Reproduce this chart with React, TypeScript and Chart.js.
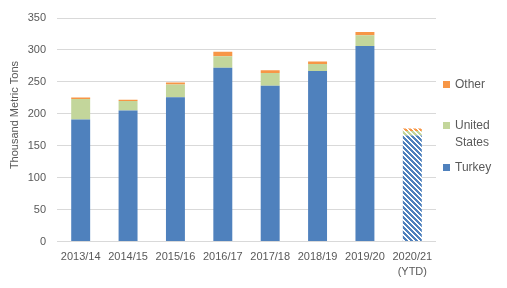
import React, { useEffect, useRef } from "react";
import { Chart, registerables } from "chart.js";

Chart.register(...registerables);

// ---- Data ----
const categories = ["2013/14", "2014/15", "2015/16", "2016/17", "2017/18", "2018/19", "2019/20", "2020/21"];
const categoryNotes = ["", "", "", "", "", "", "", "(YTD)"];
const partialYear = [false, false, false, false, false, false, false, true];
const turkey = [191, 205, 226, 272, 244, 267, 306, 166];
const unitedStates = [32, 15, 20, 18, 20, 11, 17, 7];
const other = [2.5, 2, 3, 7, 4, 4, 5, 4];
const seriesNames = ["Turkey", "United States", "Other"];
const yMin = 0;
const yMax = 350;
const yStep = 50;
const yTitle = "Thousand Metric Tons";

const seriesColors = ["#4F81BD", "#C3D69B", "#F79646"];
const TEXT = "#595959";
const FONT = "'Liberation Sans', Arial, sans-serif";

function makeStripes(color: string): CanvasPattern | string {
  const n = 5;
  const c = document.createElement("canvas");
  c.width = n;
  c.height = n;
  const g = c.getContext("2d");
  if (!g) return color;
  g.fillStyle = "#ffffff";
  g.fillRect(0, 0, n, n);
  g.fillStyle = color;
  for (let y = 0; y < n; y++) {
    for (let x = 0; x < n; x++) {
      if ((((x - y) % n) + n) % n < 3) g.fillRect(x, y, 1, 1);
    }
  }
  return g.createPattern(c, "repeat") || color;
}

const yTitlePlugin = {
  id: "yTitleCustom",
  afterDraw(chart: any) {
    const ctx = chart.ctx;
    ctx.save();
    ctx.translate(15, 115);
    ctx.rotate(-Math.PI / 2);
    ctx.fillStyle = TEXT;
    ctx.font = `11px ${FONT}`;
    ctx.textAlign = "center";
    ctx.textBaseline = "middle";
    ctx.fillText(yTitle, 0, 0);
    ctx.restore();
  },
};

export default function App() {
  const ref = useRef<HTMLCanvasElement | null>(null);

  useEffect(() => {
    if (!ref.current) return;
    const values = [turkey, unitedStates, other];
    const labels = categories.map((c, i) => (categoryNotes[i] ? [c, categoryNotes[i]] : c));
    const datasets = values.map((vals, si) => {
      const pattern = makeStripes(seriesColors[si]);
      return {
        label: seriesNames[si],
        data: vals,
        backgroundColor: vals.map((_, i) => (partialYear[i] ? pattern : seriesColors[si])),
        borderWidth: 0,
        barPercentage: 0.4,
        categoryPercentage: 1.0,
      };
    });
    const chart = new Chart(ref.current, {
      type: "bar",
      data: { labels, datasets: datasets as any },
      options: {
        animation: false,
        responsive: false,
        maintainAspectRatio: false,
        layout: { padding: { left: 0, right: 71, top: 18, bottom: 0 } },
        plugins: { legend: { display: false }, tooltip: { enabled: false } },
        scales: {
          x: {
            stacked: true,
            grid: { display: false, drawTicks: false },
            border: { display: false },
            ticks: {
              color: TEXT,
              font: { family: FONT, size: 11, lineHeight: 1.35 },
              padding: 8,
              maxRotation: 0,
              autoSkip: false,
            },
            afterFit: (s: any) => {
              s.height = 46.5;
            },
          },
          y: {
            stacked: true,
            min: yMin,
            max: yMax,
            grid: { color: "#D9D9D9", lineWidth: 1, drawTicks: false },
            border: { display: false },
            ticks: {
              stepSize: yStep,
              color: TEXT,
              font: { family: FONT, size: 11 },
              padding: 11,
            },
            afterFit: (s: any) => {
              s.width = 57;
            },
          },
        },
      },
      plugins: [yTitlePlugin],
    });
    return () => chart.destroy();
  }, []);

  const legendTops = [158.5, 117, 75.5];
  return (
    <div style={{ position: "absolute", left: 0, top: 0, width: 507, height: 288, background: "#fff" }}>
      <canvas ref={ref} width={507} height={288} style={{ width: 507, height: 288, display: "block" }} />
      {seriesNames.map((name, i) => (
        <div
          key={name}
          style={{
            position: "absolute",
            left: 443,
            top: legendTops[i],
            width: 60,
            fontFamily: FONT,
            fontSize: 12,
            lineHeight: "17px",
            color: TEXT,
          }}
        >
          <span
            style={{
              position: "absolute",
              left: 0,
              top: 5,
              width: 7,
              height: 7,
              background: seriesColors[i],
            }}
          />
          <div style={{ marginLeft: 12, width: 44 }}>{name}</div>
        </div>
      ))}
    </div>
  );
}
